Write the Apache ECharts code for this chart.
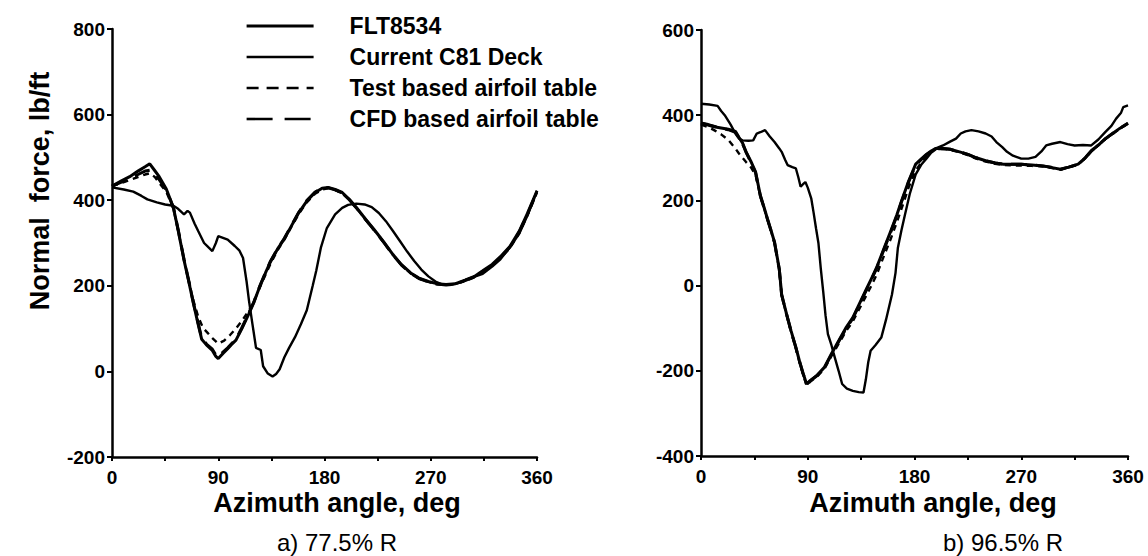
<!DOCTYPE html>
<html>
<head>
<meta charset="utf-8">
<script src="https://cdn.jsdelivr.net/npm/echarts@6/dist/echarts.min.js"></script>
<style>
html, body { margin: 0; background: #fff; }
#chart { width: 1148px; height: 556px; }
</style>
</head>
<body>
<div id="chart"></div>
<script>
// series names
var names = ['FLT8534', 'Current C81 Deck', 'Test based airfoil table', 'CFD based airfoil table'];

// a) 77.5% R  -- [azimuth deg, normal force lb/ft]
var fltA = [[0,430],[10,425],[18,420],[25,410],[30,402],[38,395],[45,390],[52,387],[56,380],[61,367],[64,375],[66,371],[70,345],[73,328],[78,300],[82,289],[85,281],[88,300],[90,316],[94,312],[98,308],[104,293],[108,282],[111,265],[114,210],[116,166],[119,110],[122,55],[126,50],[128,12],[132,-5],[136,-12],[139,-6],[142,5],[146,33],[150,55],[155,80],[160,110],[165,143],[170,200],[173,235],[177,290],[182,335],[189,367],[195,382],[200,389],[207,392],[214,390],[220,384],[226,370],[232,351],[238,328],[244,304],[250,280],[256,258],[262,238],[268,222],[274,210],[280,203],[287,203],[293,206],[299,213],[306,220],[314,228],[322,245],[329,262],[337,290],[345,322],[352,365],[360,422]];
var c81A = [[0,433],[8,445],[15,455],[22,468],[28,478],[32,485],[36,470],[40,455],[46,426],[52,383],[56,330],[61,260],[65,210],[69,158],[73,110],[76,75],[80,62],[85,49],[88,35],[90,30],[94,42],[98,53],[102,65],[105,73],[110,100],[116,135],[120,160],[125,197],[130,230],[134,255],[140,285],[146,310],[152,340],[158,370],[165,398],[172,418],[178,428],[183,430],[189,425],[195,418],[201,402],[207,383],[215,355],[223,328],[230,303],[238,273],[245,250],[253,230],[260,218],[268,210],[275,205],[283,203],[291,205],[299,213],[307,222],[314,235],[322,250],[329,268],[337,292],[345,328],[352,370],[360,422]];
var testA = [[0,433],[8,440],[15,447],[22,454],[28,460],[32,463],[36,455],[40,440],[46,420],[52,380],[56,330],[61,262],[65,212],[69,165],[73,128],[77,102],[81,90],[85,78],[90,65],[95,72],[100,85],[105,100],[110,118],[116,142],[120,162],[125,195],[130,226],[134,250],[140,282],[146,308],[152,338],[158,367],[165,395],[172,415],[178,425],[183,428],[189,424],[195,416],[201,400],[207,382],[215,354],[223,327],[230,302],[238,272],[245,249],[253,229],[260,217],[268,209],[275,204],[283,202],[291,204],[299,211],[307,220],[314,232],[322,247],[329,265],[337,288],[345,323],[352,365],[360,418]];
var cfdA = [[0,433],[8,442],[15,450],[22,460],[28,468],[32,470],[36,462],[40,448],[46,424],[52,383],[56,332],[61,262],[65,212],[69,160],[73,112],[76,78],[80,64],[85,52],[88,38],[90,34],[94,45],[98,55],[102,67],[105,75],[110,102],[116,137],[120,161],[125,198],[130,231],[134,256],[140,286],[146,311],[152,341],[158,371],[165,399],[172,419],[178,428],[183,429],[189,424],[195,417],[201,401],[207,382],[215,354],[223,327],[230,302],[238,272],[245,249],[253,229],[260,217],[268,209],[275,204],[283,202],[291,204],[299,212],[307,221],[314,233],[322,248],[329,266],[337,290],[345,326],[352,368],[360,420]];

// b) 96.5% R
var fltB = [[0,427],[7,425],[14,422],[17,410],[20,400],[25,378],[29,357],[32,345],[35,341],[40,340],[44,341],[47,357],[50,360],[54,365],[58,350],[62,337],[66,322],[68,314],[71,295],[73,283],[77,278],[80,275],[82,255],[84,232],[86,238],[88,243],[90,230],[93,204],[95,170],[97,134],[99,100],[101,40],[103,-13],[105,-70],[107,-114],[110,-140],[112,-161],[116,-200],[119,-231],[123,-242],[128,-247],[133,-250],[137,-251],[139,-220],[141,-180],[143,-153],[147,-140],[152,-122],[156,-80],[161,-21],[164,30],[166,89],[169,130],[172,167],[176,215],[181,261],[186,285],[190,298],[194,312],[198,322],[204,329],[210,338],[215,345],[219,357],[223,362],[228,365],[234,362],[240,357],[245,350],[249,337],[254,325],[258,314],[263,305],[270,298],[276,298],[282,302],[287,315],[291,329],[296,333],[303,337],[309,332],[315,329],[322,330],[329,329],[335,343],[341,361],[346,375],[350,392],[354,405],[356,419],[360,423]];
var c81B = [[0,381],[6,377],[11,373],[17,370],[23,367],[29,362],[32,348],[35,335],[38,314],[42,292],[46,267],[50,212],[53,185],[56,157],[59,130],[62,102],[66,39],[68,-21],[72,-65],[76,-107],[80,-145],[83,-177],[86,-205],[89,-231],[92,-223],[98,-210],[104,-192],[110,-160],[116,-130],[122,-100],[128,-75],[134,-40],[140,-5],[144,18],[148,42],[154,85],[160,128],[165,165],[169,198],[175,245],[181,285],[186,298],[190,308],[194,316],[198,322],[204,322],[210,320],[218,314],[225,308],[232,300],[240,293],[248,288],[255,285],[262,285],[270,285],[279,283],[288,281],[296,277],[303,273],[310,278],[318,285],[324,300],[329,316],[335,330],[341,345],[347,357],[353,369],[360,381]];
var testB = [[0,378],[6,372],[11,365],[17,355],[23,342],[29,322],[32,310],[35,300],[38,290],[42,278],[46,260],[50,210],[53,184],[56,156],[59,129],[62,100],[66,37],[68,-22],[72,-67],[76,-109],[80,-147],[83,-180],[86,-208],[89,-235],[92,-226],[98,-213],[104,-196],[110,-165],[116,-137],[122,-108],[128,-84],[134,-52],[140,-20],[144,2],[148,25],[154,68],[160,110],[165,148],[169,180],[175,230],[181,270],[186,290],[190,303],[194,312],[198,320],[204,321],[210,319],[218,313],[225,306],[232,298],[240,291],[248,286],[255,283],[262,282],[270,282],[279,281],[288,280],[296,276],[303,272],[310,277],[318,284],[324,299],[329,315],[335,329],[341,344],[347,356],[353,368],[360,380]];
var cfdB = [[0,382],[6,378],[11,374],[17,370],[23,366],[29,360],[32,347],[35,333],[38,313],[42,290],[46,265],[50,211],[53,184],[56,156],[59,129],[62,101],[66,38],[68,-22],[72,-66],[76,-108],[80,-146],[83,-178],[86,-206],[89,-232],[92,-224],[98,-211],[104,-193],[110,-162],[116,-132],[122,-102],[128,-77],[134,-42],[140,-7],[144,16],[148,40],[154,83],[160,126],[165,163],[169,196],[175,243],[181,283],[186,297],[190,307],[194,315],[198,321],[204,322],[210,320],[218,314],[225,308],[232,300],[240,293],[248,288],[255,285],[262,285],[270,285],[279,283],[288,281],[296,277],[303,273],[310,278],[318,285],[324,300],[329,316],[335,330],[341,345],[347,357],[353,369],[360,381]];

// axis ranges
var xTicks = [0, 90, 180, 270, 360];
var yRangeA = [-200, 800];
var yRangeB = [-400, 600];

var font = "'Liberation Sans', Arial, Helvetica, sans-serif";
var black = '#000';

// line look per series: plot dash, legend dash
var styles = [
    { width: 2.4, type: 'solid', legendWidth: 3.2, legendType: 'solid' },
    { width: 3, type: 'solid', legendWidth: 2.6, legendType: 'solid' },
    { width: 2.4, type: [6, 5], legendWidth: 2.4, legendType: [12, 8] },
    { width: 3, type: [16, 9], legendWidth: 2.6, legendType: [26, 12] }
];

function xAxisOf(grid) {
    return {
        gridIndex: grid,
        type: 'value',
        min: 0,
        max: 360,
        interval: 45,
        axisLine: { onZero: false, lineStyle: { color: black, width: 2.5 } },
        axisTick: { length: 4, lineStyle: { color: black, width: 2 } },
        axisLabel: {
            margin: 11,
            color: black,
            fontFamily: font,
            fontWeight: 'bold',
            fontSize: 19,
            formatter: function (v) { return xTicks.indexOf(v) >= 0 ? String(v) : ''; }
        },
        splitLine: { show: false }
    };
}

function yAxisOf(grid, range) {
    return {
        gridIndex: grid,
        type: 'value',
        min: range[0],
        max: range[1],
        interval: 200,
        axisLine: { show: true, onZero: false, lineStyle: { color: black, width: 2.5 } },
        axisTick: { show: true, length: 5, lineStyle: { color: black, width: 2 } },
        axisLabel: { margin: 7, color: black, fontFamily: font, fontWeight: 'bold', fontSize: 19 },
        splitLine: { show: false }
    };
}

function seriesOf(grid, list) {
    return list.map(function (d, i) {
        return {
            name: names[i],
            type: 'line',
            xAxisIndex: grid,
            yAxisIndex: grid,
            data: d,
            symbol: 'none',
            lineStyle: { color: black, width: styles[i].width, type: styles[i].type },
            itemStyle: { color: black },
            z: 10 - i
        };
    });
}

var myChart = echarts.init(document.getElementById('chart'), null, { renderer: 'svg' });

var option = {
    animation: false,
    backgroundColor: '#fff',
    grid: [
        { left: 112, top: 29, width: 425, height: 428 },
        { left: 701, top: 30, width: 427, height: 426 }
    ],
    legend: {
        orient: 'vertical',
        left: 240,
        top: 9,
        itemWidth: 67,
        itemHeight: 14,
        itemGap: 7,
        data: names.map(function (n, i) {
            return {
                name: n,
                itemStyle: { opacity: 0 },
                lineStyle: { color: black, width: styles[i].legendWidth, type: styles[i].legendType }
            };
        }),
        textStyle: { color: black, fontFamily: font, fontWeight: 'bold', fontSize: 23, lineHeight: 24, padding: [0, 0, 0, 31] }
    },
    xAxis: [xAxisOf(0), xAxisOf(1)],
    yAxis: [yAxisOf(0, yRangeA), yAxisOf(1, yRangeB)],
    series: seriesOf(0, [fltA, c81A, testA, cfdA]).concat(seriesOf(1, [fltB, c81B, testB, cfdB])),
    graphic: [
        {
            type: 'text', x: 40, y: 191, rotation: Math.PI / 2,
            style: { text: 'Normal  force, lb/ft', fill: black, font: 'bold 27px ' + font, textAlign: 'center', textVerticalAlign: 'middle' }
        },
        {
            type: 'text', x: 337, y: 503,
            style: { text: 'Azimuth angle, deg', fill: black, font: 'bold 27px ' + font, textAlign: 'center', textVerticalAlign: 'middle' }
        },
        {
            type: 'text', x: 337, y: 542,
            style: { text: 'a) 77.5% R', fill: black, font: '24px ' + font, textAlign: 'center', textVerticalAlign: 'middle' }
        },
        {
            type: 'text', x: 933, y: 503,
            style: { text: 'Azimuth angle, deg', fill: black, font: 'bold 27px ' + font, textAlign: 'center', textVerticalAlign: 'middle' }
        },
        {
            type: 'text', x: 1003, y: 542,
            style: { text: 'b) 96.5% R', fill: black, font: '24px ' + font, textAlign: 'center', textVerticalAlign: 'middle' }
        }
    ]
};

myChart.setOption(option);
</script>
</body>
</html>
